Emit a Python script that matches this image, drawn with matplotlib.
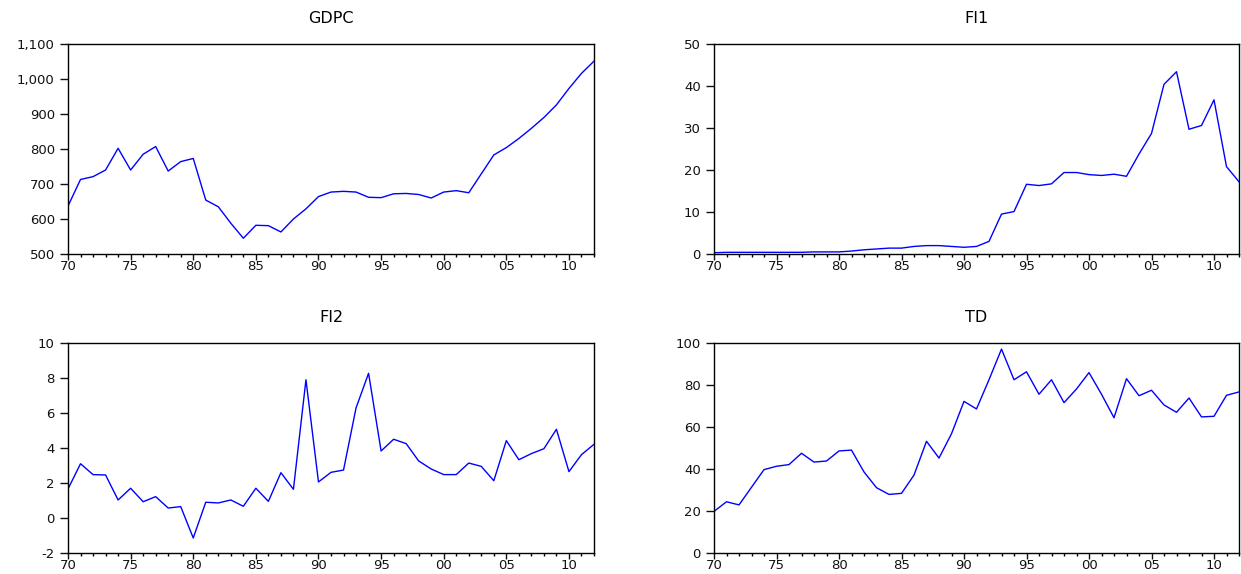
import numpy as np
import matplotlib
matplotlib.use('Agg')
from matplotlib import pyplot as plt
from matplotlib.ticker import FuncFormatter, MultipleLocator

plt.rcParams['font.family'] = ['DejaVu Sans']

years = np.arange(1970, 2013)

gdpc = [637, 713, 721, 740, 802, 740, 785, 807, 737, 764, 773, 654, 635, 588, 545,
        582, 581, 563, 600, 629, 664, 677, 679, 677, 662, 661, 672, 673, 670, 660,
        677, 681, 675, 729, 783, 804, 830, 859, 890, 926, 973, 1016, 1051]

fi1 = [0.3, 0.4, 0.4, 0.4, 0.4, 0.4, 0.4, 0.4, 0.5, 0.5, 0.5, 0.7, 1.0, 1.2, 1.4,
       1.4, 1.8, 2.0, 2.0, 1.8, 1.6, 1.8, 3.0, 9.5, 10.1, 16.6, 16.3, 16.7, 19.4, 19.4,
       18.9, 18.7, 19.0, 18.5, 23.8, 28.7, 40.4, 43.4, 29.7, 30.6, 36.7, 20.8, 17.2]

fi2 = [1.66, 3.1, 2.48, 2.46, 1.03, 1.7, 0.93, 1.22, 0.57, 0.65, -1.14, 0.9, 0.86, 1.03, 0.67,
       1.7, 0.95, 2.59, 1.64, 7.9, 2.06, 2.61, 2.74, 6.29, 8.27, 3.83, 4.5, 4.25, 3.26, 2.8,
       2.48, 2.48, 3.14, 2.95, 2.13, 4.42, 3.33, 3.68, 3.96, 5.07, 2.65, 3.62, 4.21]

td = [19.8, 24.4, 22.9, 31.3, 39.7, 41.3, 42.1, 47.5, 43.3, 43.8, 48.6, 49.0, 38.6, 31.1, 27.9,
      28.4, 37.1, 53.2, 45.2, 56.8, 72.2, 68.6, 82.5, 97.1, 82.5, 86.3, 75.6, 82.5, 71.6, 78.1,
      85.9, 75.6, 64.4, 83.0, 74.9, 77.5, 70.5, 67.0, 73.8, 64.8, 65.1, 75.1, 76.7]

titles = ['GDPC', 'FI1', 'FI2', 'TD']
series = [gdpc, fi1, fi2, td]
ylims = [(500, 1100), (0, 50), (-2, 10), (0, 100)]
ysteps = [100, 10, 2, 20]

fig = plt.figure(figsize=(12.41, 5.74), dpi=100)
W, H = 1241.0, 574.0
# pixel boxes: left, top, right, bottom
boxes = [(68, 44, 594, 254), (714, 44, 1239, 254),
         (68, 343, 594, 553), (714, 343, 1239, 553)]

def yfmt(v, pos):
    if abs(v) >= 1000:
        return '{:,.0f}'.format(v)
    return '{:g}'.format(v)

for (l, t, r, b), name, vals, yl, ys in zip(boxes, titles, series, ylims, ysteps):
    ax = fig.add_axes([l / W, 1 - b / H, (r - l) / W, (b - t) / H])
    ax.plot(years, vals, color='#0000ff', lw=1.0)
    ax.set_xlim(1970, 2012)
    ax.set_ylim(*yl)
    ax.xaxis.set_major_locator(MultipleLocator(5))
    ax.xaxis.set_minor_locator(MultipleLocator(1))
    ax.xaxis.set_major_formatter(FuncFormatter(lambda v, p: '%02d' % (int(round(v)) % 100)))
    ax.yaxis.set_major_locator(MultipleLocator(ys))
    ax.yaxis.set_major_formatter(FuncFormatter(yfmt))
    ax.tick_params(axis='y', which='major', direction='out', length=5.5, width=1,
                   labelsize=9.5, pad=4, colors='#111111')
    ax.tick_params(axis='x', which='major', direction='out', length=4, width=1,
                   labelsize=9.5, pad=0.5, colors='#111111')
    ax.tick_params(axis='x', which='minor', direction='out', length=2.5, width=1)
    for s in ax.spines.values():
        s.set_linewidth(1.0)
    ax.set_title(name, fontsize=11.5, pad=15)

fig.savefig('out.png', dpi=100)
